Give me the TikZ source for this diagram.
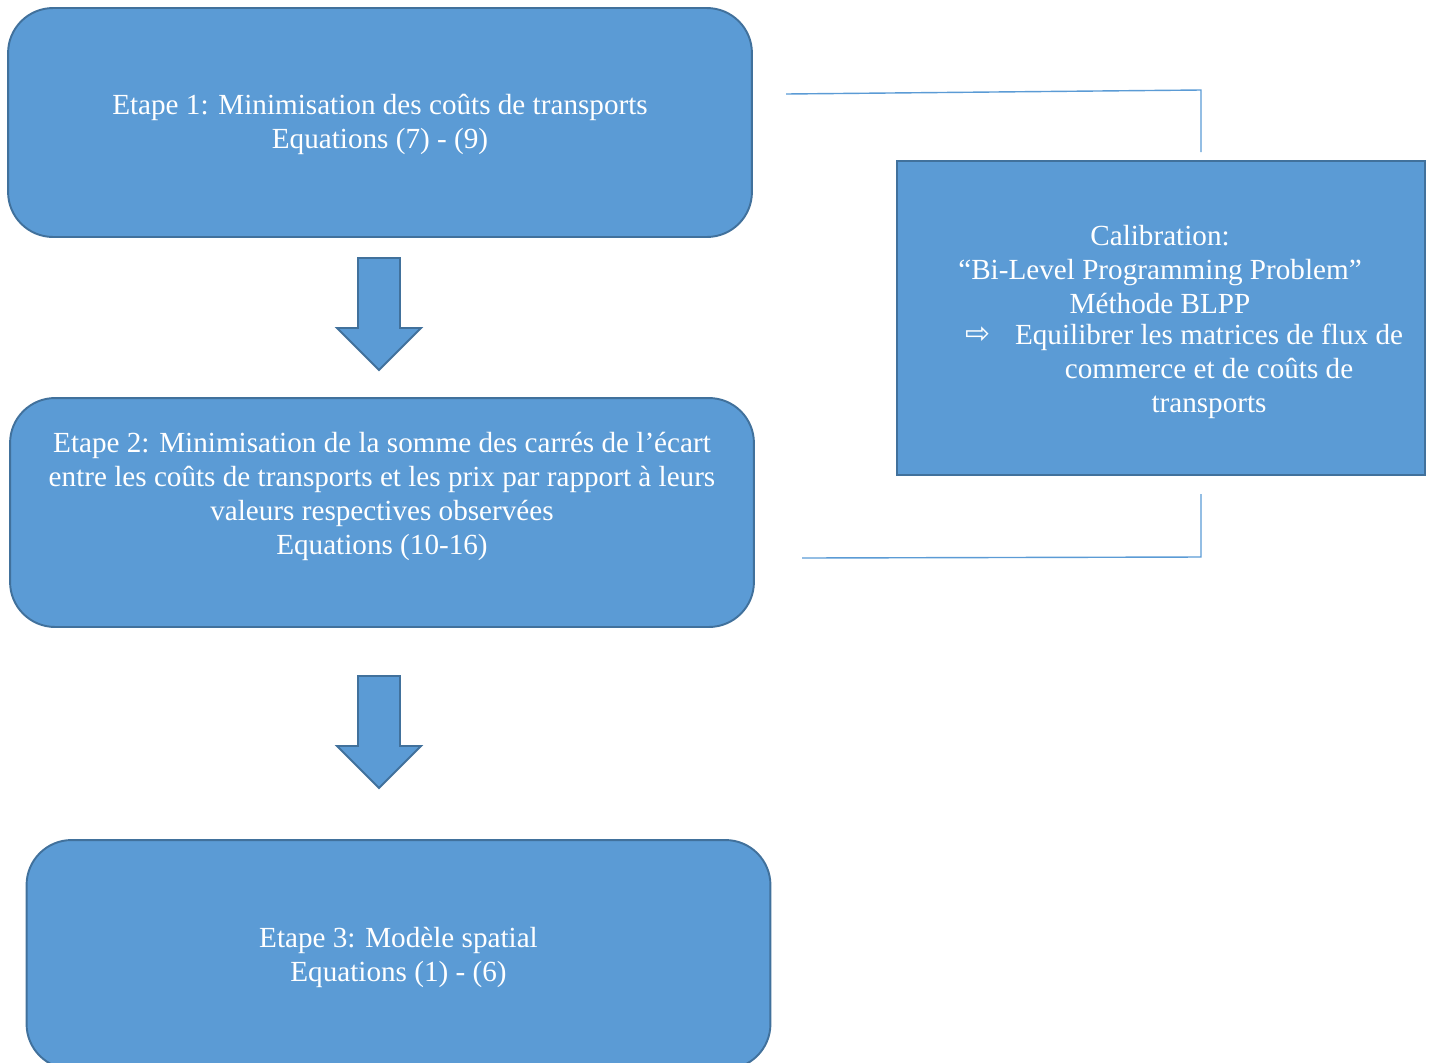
\documentclass[tikz,border=0pt]{standalone}
\usepackage{fontspec}
\setmainfont{Liberation Serif}
\newfontfamily\symfont{DejaVu Sans}
\usepackage{tikz}
\usetikzlibrary{positioning,calc}

\definecolor{boxblue}{HTML}{5B9BD5}
\definecolor{edgeblue}{HTML}{41719C}
\definecolor{lineblue}{HTML}{5B9BD5}

\tikzset{
    stepbox/.style={draw=edgeblue,fill=boxblue,line width=1.1pt,rounded corners=0.9cm,
        minimum width=14.88cm,minimum height=4.58cm,inner sep=0pt},
    calbox/.style={draw=edgeblue,fill=boxblue,line width=1.1pt,
        minimum width=10.56cm,minimum height=6.28cm,inner sep=0pt},
    steptext/.style={text=white,align=center,inner sep=0pt,
        font=\fontsize{16.6}{19.4}\selectfont},
    blockarrow/.style={draw=edgeblue,fill=boxblue,line width=1.1pt},
    link/.style={draw=lineblue,line width=0.8pt}
}

\begin{document}
\begin{tikzpicture}[x=0.02cm,y=-0.02cm]
    \clip (0,0) rectangle (1435,1062);

    % Steps
    \node[stepbox] (etape1) at (380,122.5) {};
    \node[steptext] (etape1txt) at (380,124.5) {Etape 1: Minimisation des coûts de transports\\Equations (7) - (9)};

    \node[stepbox] (etape2) at (382,512.5) {};
    \node[steptext] (etape2txt) at (382,496.5) {Etape 2: Minimisation de la somme des carrés de l’écart\\entre les coûts de transports et les prix par rapport à leurs\\valeurs respectives observées\\Equations (10-16)};

    \node[stepbox] (etape3) at (398.5,954.5) {};
    \node[steptext] (etape3txt) at (398.5,957.5) {Etape 3: Modèle spatial\\Equations (1) - (6)};

    % Block arrows between steps
    \foreach \ya in {258,676} {
        \draw[blockarrow] (358,\ya) -- (400,\ya) -- (400,\ya+70) -- (421,\ya+70)
            -- (379,\ya+112) -- (337,\ya+70) -- (358,\ya+70) -- cycle;
    }

    % Calibration
    \node[calbox] (calib) at (1161,318) {};
    \node[steptext] (calibtxt) at (1160,269.5) {Calibration:\\“Bi-Level Programming Problem”\\Méthode BLPP};
    \node[steptext] (calibitem) at (1209,371.5) {Equilibrer les matrices de flux de\\commerce et de coûts de\\transports};
    \node[steptext,font=\symfont\fontsize{17}{19}\selectfont] (calibsym) at (978,335) {⇨};

    % Bracket lines
    \coordinate (topL) at (786,94);
    \coordinate (topR) at (1201,90);
    \coordinate (topE) at (1201,152);
    \draw[link] (topL) -- (topR) -- (topE);
    \coordinate (botS) at (1201,494);
    \coordinate (botR) at (1201,557);
    \coordinate (botL) at (802,558);
    \draw[link] (botS) -- (botR) -- (botL);
\end{tikzpicture}
\end{document}
